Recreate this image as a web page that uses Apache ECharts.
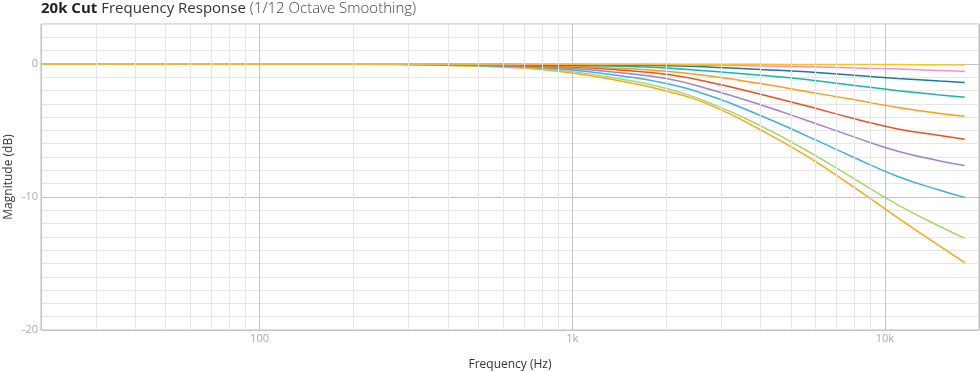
<!DOCTYPE html>
<html>
<head>
<meta charset="utf-8">
<script src="https://cdn.jsdelivr.net/npm/echarts@6/dist/echarts.min.js"></script>
<style>html,body{margin:0;padding:0;background:#fff}#c{width:980px;height:372px}</style>
</head>
<body>
<div id="c"></div>
<script>
const freqs = [20, 200, 500, 700, 1000, 1400, 2000, 2800, 4000, 5600, 8000, 11000, 15000, 18000];
const cut10 = [0, -0.02, -0.18, -0.33, -0.68, -1.25, -2.03, -3.15, -4.95, -6.9, -9.3, -11.57, -13.7, -14.93];
const cut9  = [0, -0.02, -0.15, -0.28, -0.58, -1.1, -1.85, -3.0, -4.65, -6.49, -8.65, -10.6, -12.22, -13.1];
const cut8  = [0, -0.01, -0.12, -0.22, -0.45, -0.87, -1.48, -2.45, -3.88, -5.39, -7.05, -8.46, -9.5, -10.03];
const cut7  = [0, -0.01, -0.09, -0.17, -0.34, -0.65, -1.1, -1.96, -3.07, -4.23, -5.5, -6.56, -7.29, -7.63];
const cut6  = [0, -0.01, -0.07, -0.13, -0.24, -0.46, -0.78, -1.42, -2.28, -3.15, -4.12, -4.89, -5.38, -5.66];
const cut5  = [0, -0.01, -0.05, -0.1, -0.18, -0.33, -0.55, -0.93, -1.48, -2.07, -2.7, -3.27, -3.72, -3.93];
const cut4  = [0, 0, -0.03, -0.06, -0.1, -0.18, -0.3, -0.56, -0.86, -1.18, -1.62, -2.01, -2.33, -2.5];
const cut3  = [0, 0, -0.02, -0.04, -0.08, -0.1, -0.13, -0.25, -0.42, -0.59, -0.86, -1.09, -1.29, -1.4];
const cut2  = [0, 0, -0.01, -0.02, -0.03, -0.04, -0.05, -0.1, -0.15, -0.22, -0.3, -0.38, -0.49, -0.56];
const cut1  = [0, 0, 0, 0, -0.01, -0.01, -0.02, -0.02, -0.03, -0.04, -0.05, -0.05, -0.07, -0.08];
const xTickLabels = {100: '100', 1000: '1k', 10000: '10k'};
const minorFreqs = [30, 40, 50, 60, 70, 80, 90, 200, 300, 400, 500, 600, 700, 800, 900, 2000, 3000, 4000, 5000, 6000, 7000, 8000, 9000];

const seriesDefs = [
  ['Cut 10', cut10, '#ffa51f'],
  ['Cut 9', cut9, '#a6d96a'],
  ['Cut 8', cut8, '#3fb0e0'],
  ['Cut 7', cut7, '#a67fcf'],
  ['Cut 6', cut6, '#e6541f'],
  ['Cut 5', cut5, '#ff9a1a'],
  ['Cut 4', cut4, '#19b5a4'],
  ['Cut 3', cut3, '#1b79a3'],
  ['Cut 2', cut2, '#f48fd7'],
  ['Cut 1', cut1, '#fcc21b']
];

const FONT = '"Open Sans", "Noto Sans", sans-serif';
const chart = echarts.init(document.getElementById('c'), null, {renderer: 'canvas'});

const series = seriesDefs.map(([name, vals, color]) => ({
  name, type: 'line', z: 3,
  data: freqs.map((f, i) => [f, vals[i]]),
  showSymbol: false, smooth: 0.5,
  lineStyle: {color, width: 1.5}, itemStyle: {color},
  silent: true
}));
series.unshift({
  name: 'grid', type: 'line', z: 1, data: [], silent: true,
  markLine: {
    silent: true, symbol: ['none', 'none'], label: {show: false},
    lineStyle: {color: '#e6e6e6', width: 1, type: 'solid'},
    emphasis: {disabled: true},
    data: minorFreqs.map(f => ({xAxis: f}))
  }
});

const yColors = ['#c4c4c4', '#e6e6e6', '#e6e6e6', '#e6e6e6', '#e6e6e6', '#e6e6e6', '#e6e6e6', '#e6e6e6', '#e6e6e6', '#e6e6e6'];

chart.setOption({
  animation: false,
  textStyle: {fontFamily: FONT},
  title: {
    left: 41, top: 1, padding: 0,
    text: '{b|20k Cut} {n|Frequency Response} {l|(1/12 Octave Smoothing)}',
    textStyle: {
      fontSize: 15, fontFamily: FONT, color: '#333', fontWeight: 'normal',
      rich: {
        b: {fontSize: 15, fontFamily: FONT, fontWeight: 'bold', color: '#222'},
        n: {fontSize: 15, fontFamily: FONT, fontWeight: 'normal', color: '#333'},
        l: {fontSize: 15, fontFamily: FONT, fontWeight: 300, color: '#444'}
      }
    }
  },
  grid: {left: 41, right: 1, top: 24, bottom: 42, show: true, borderColor: '#bdbdbd', borderWidth: 1, containLabel: false, outerBoundsMode: 'none'},
  xAxis: {
    type: 'log', logBase: 10, min: 20, max: 20000,
    name: 'Frequency (Hz)', nameLocation: 'middle', nameGap: 29,
    nameTextStyle: {fontSize: 12, color: '#333', fontFamily: FONT},
    axisLine: {show: false}, axisTick: {show: false},
    axisLabel: {
      color: '#aaa', fontSize: 11, margin: 3, fontFamily: FONT,
      showMinLabel: false, showMaxLabel: false,
      formatter: v => xTickLabels[Math.round(v)] || ''
    },
    splitLine: {show: true, lineStyle: {color: '#c4c4c4', width: 1}}
  },
  yAxis: {
    type: 'value', min: -20, max: 3, interval: 1,
    name: 'Magnitude (dB)', nameLocation: 'middle', nameGap: 26, nameMoveOverlap: false,
    nameTextStyle: {fontSize: 12, color: '#333', fontFamily: FONT},
    axisLine: {show: false}, axisTick: {show: false},
    axisLabel: {
      color: '#aaa', fontSize: 11, margin: 3, fontFamily: FONT,
      showMaxLabel: false,
      formatter: v => (Math.round(v) % 10 === 0 ? String(Math.round(v)) : '')
    },
    splitLine: {show: true, lineStyle: {color: yColors, width: 1}}
  },
  series
});
</script>
</body>
</html>
